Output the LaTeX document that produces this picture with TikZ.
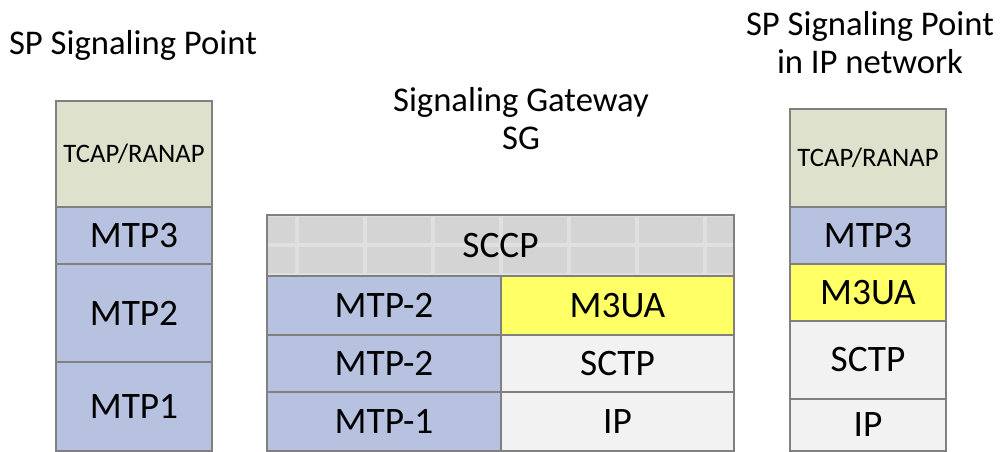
\documentclass[tikz,border=0pt]{standalone}
\usepackage{fontspec}
\setmainfont{Carlito}
\usepackage{tikz}
\usepackage{xcolor}
\usetikzlibrary{positioning,calc}

\definecolor{mtpblue}{RGB}{183,194,224}
\definecolor{tcapgreen}{RGB}{222,225,204}
\definecolor{uayellow}{RGB}{255,255,102}
\definecolor{ipgray}{RGB}{242,242,242}
\definecolor{sccpgray}{RGB}{224,224,224}
\definecolor{tilegray}{RGB}{212,212,212}
\definecolor{edgegray}{RGB}{128,128,128}

% one pixel of the original drawing
\newcommand{\pxu}{0.75pt}

\tikzset{
    layer/.style={draw=edgegray, line width=0.8pt, inner sep=0pt, outer sep=0pt, font=\fontsize{28}{30}\selectfont},
    toplayer/.style={layer, fill=tcapgreen, font=\fontsize{20}{22}\selectfont},
    box/.style 2 args={minimum width=#1*\pxu, minimum height=#2*\pxu},
    title/.style={align=center, font=\fontsize{26}{28.5}\selectfont}
}

\begin{document}
\begin{tikzpicture}[x=\pxu, y=-\pxu]
    \useasboundingbox (0,0) rectangle (1001,452);

    % Titles
    \node[title] (sptitle) at (133,45) {SP Signaling Point};
    \node[title] (sgtitle) at (521,119) {Signaling Gateway\\SG};
    \node[title] (iptitle) at (870,43) {SP Signaling Point\\in IP network};

    % Left stack: SS7 signaling point
    \node[toplayer, box={156}{106}] (tcapL) at (134,154) {TCAP/RANAP};
    \node[layer, fill=mtpblue, box={156}{57}] (mtp3L) at (134,235.5) {MTP3};
    \node[layer, fill=mtpblue, box={156}{98}] (mtp2L) at (134,313) {MTP2};
    \node[layer, fill=mtpblue, box={156}{89}] (mtp1L) at (134,406.5) {MTP1};

    % Middle stack: signaling gateway
    \node[layer, fill=sccpgray, box={467}{61}] (sccp) at (500.5,245.5) {};
    \fill[tilegray] (268,217) rectangle (295,243) (268,247) rectangle (295,273);
    \foreach \i in {0,...,6} {
        \fill[tilegray] (299+68*\i,217) rectangle ({min(363+68*\i,733)},243);
        \fill[tilegray] (299+68*\i,247) rectangle ({min(363+68*\i,733)},273);
    }
    \draw[edgegray, line width=0.8pt] (sccp.north west) rectangle (sccp.south east);
    \node[font=\fontsize{28}{30}\selectfont] (sccplabel) at (sccp.center) {SCCP};
    \node[layer, fill=mtpblue, box={234}{59}] (mtp2a) at (384,305.5) {MTP-2};
    \node[layer, fill=uayellow, box={233}{59}] (m3uaG) at (617.5,305.5) {M3UA};
    \node[layer, fill=mtpblue, box={234}{57}] (mtp2b) at (384,363.5) {MTP-2};
    \node[layer, fill=ipgray, box={233}{57}] (sctpG) at (617.5,363.5) {SCTP};
    \node[layer, fill=mtpblue, box={234}{59}] (mtp1G) at (384,421.5) {MTP-1};
    \node[layer, fill=ipgray, box={233}{59}] (ipG) at (617.5,421.5) {IP};

    % Right stack: signaling point in IP network
    \node[toplayer, box={156}{98}] (tcapR) at (868,158) {TCAP/RANAP};
    \node[layer, fill=mtpblue, box={156}{57}] (mtp3R) at (868,235.5) {MTP3};
    \node[layer, fill=uayellow, box={156}{57}] (m3uaR) at (868,292.5) {M3UA};
    \node[layer, fill=ipgray, box={156}{78}] (sctpR) at (868,360) {SCTP};
    \node[layer, fill=ipgray, box={156}{52}] (ipR) at (868,425) {IP};
\end{tikzpicture}
\end{document}
